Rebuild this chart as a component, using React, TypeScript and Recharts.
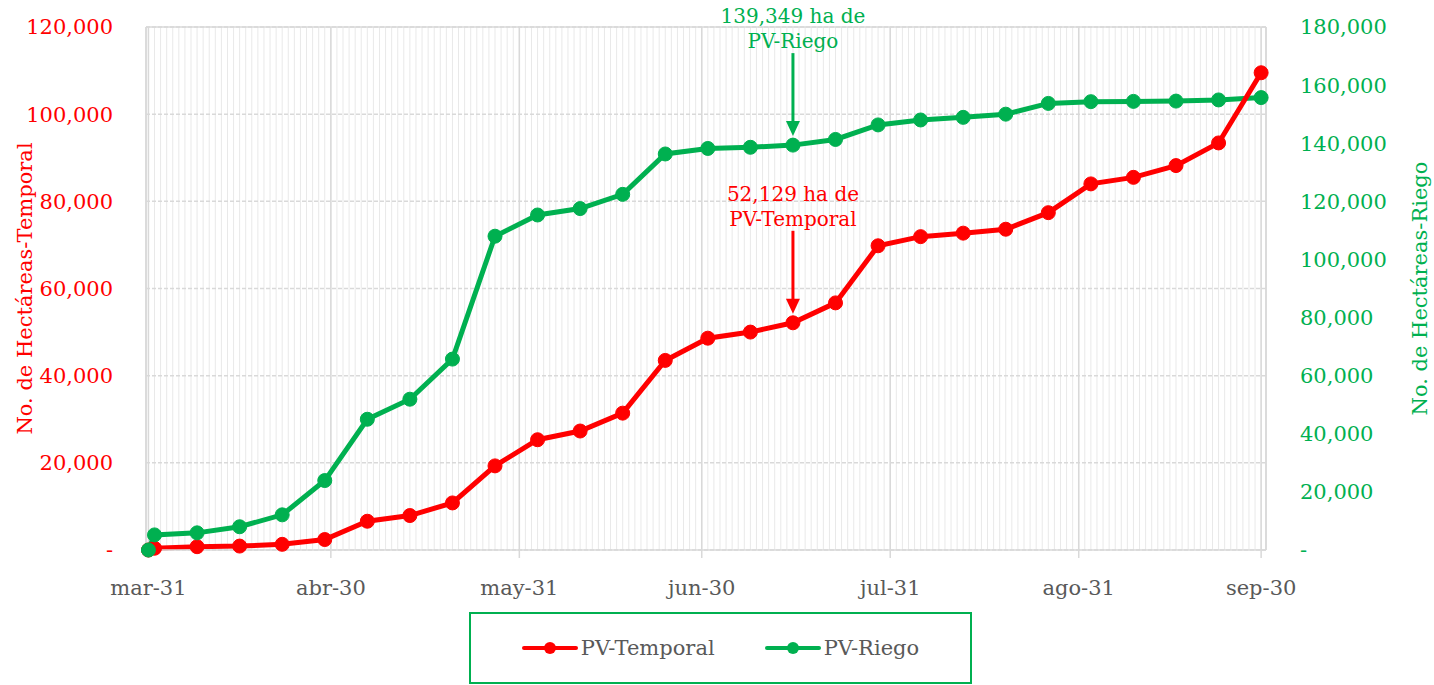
import React from "react";
import {
  LineChart, Line, XAxis, YAxis, CartesianGrid, ReferenceLine, ReferenceDot, Legend, Label,
} from "recharts";

const FONT = "'DejaVu Serif', serif";
const RED = "#ff0000";
const GREEN = "#00b050";
const GRAY_TXT = "#595959";
const GRID = "#d9d9d9";

// fechas de corte (mm-dd)
const fechas = [
  "03-31", "04-01", "04-08", "04-15", "04-22", "04-29", "05-06", "05-13", "05-20", "05-27",
  "06-03", "06-10", "06-17", "06-24", "07-01", "07-08", "07-15", "07-22", "07-29", "08-05",
  "08-12", "08-19", "08-26", "09-02", "09-09", "09-16", "09-23", "09-30",
];
const temporal = [
  0, 400, 760, 900, 1300, 2400, 6600, 7900, 10800, 19300,
  25300, 27300, 31400, 43500, 48600, 50000, 52129, 56700, 69800, 71900,
  72700, 73600, 77400, 84000, 85500, 88200, 93400, 109500,
];
const riego = [
  0, 5200, 5900, 8000, 12100, 23900, 45000, 51900, 65700, 108000,
  115300, 117500, 122400, 136300, 138200, 138600, 139349, 141300, 146300, 148000,
  148900, 150000, 153700, 154300, 154400, 154500, 154900, 155700,
];
const tickFechas = ["03-31", "04-30", "05-31", "06-30", "07-31", "08-31", "09-30"];
const tickLabels = ["mar-31", "abr-30", "may-31", "jun-30", "jul-31", "ago-31", "sep-30"];
const leftTicks = [0, 20000, 40000, 60000, 80000, 100000, 120000];
const rightTicks = [0, 20000, 40000, 60000, 80000, 100000, 120000, 140000, 160000, 180000];
const notaFecha = "07-15";

const dayOf = (f: string) => {
  const [m, d] = f.split("-").map(Number);
  return (Date.UTC(2020, m - 1, d) - Date.UTC(2020, 2, 31)) / 86400000;
};

const data = fechas.map((f, i) => ({ dia: dayOf(f), temporal: temporal[i], riego: riego[i] }));
const xTicks = tickFechas.map(dayOf);
const X_DOMAIN: [number, number] = [-0.4, 183.8];
const minorDays: number[] = [];
for (let d = 0; d <= 183; d++) minorDays.push(d);

const fmt = (v: number) => (v === 0 ? "-" : v.toLocaleString("en-US"));

const nota = (color: string, l1: string, l2: string) => (props: any) => {
  const vb = props.viewBox;
  const cx = vb.x + vb.width / 2;
  const cy = vb.y + vb.height / 2;
  return (
    <g>
      <text x={cx} y={cy - 129} textAnchor="middle" dominantBaseline="central" fill={color} fontSize={20} fontFamily={FONT}>{l1}</text>
      <text x={cx} y={cy - 104} textAnchor="middle" dominantBaseline="central" fill={color} fontSize={20} fontFamily={FONT}>{l2}</text>
      <line x1={cx} y1={cy - 92} x2={cx} y2={cy - 22} stroke={color} strokeWidth={3} />
      <polygon points={`${cx - 7},${cy - 24} ${cx + 7},${cy - 24} ${cx},${cy - 9}`} fill={color} />
    </g>
  );
};

const axisTitle = (text: string, color: string, dx: number) => (props: any) => {
  const vb = props.viewBox;
  const x = vb.x + dx;
  const y = vb.y + vb.height / 2;
  return (
    <text x={x} y={y} transform={`rotate(-90, ${x}, ${y})`} textAnchor="middle" dominantBaseline="central"
      fill={color} fontSize={21} fontFamily={FONT}>{text}</text>
  );
};

const items = [
  { name: "PV-Temporal", color: RED },
  { name: "PV-Riego", color: GREEN },
];

const LegendBox = () => (
  <div style={{
    boxSizing: "border-box", width: 503, height: 72, border: `2px solid ${GREEN}`,
    display: "flex", alignItems: "center", justifyContent: "center", gap: 50,
    fontFamily: FONT, fontSize: 21, color: GRAY_TXT,
  }}>
    {items.map((it) => (
      <div key={it.name} style={{ display: "flex", alignItems: "center" }}>
        <svg width={56} height={16}>
          <line x1={2} y1={8} x2={54} y2={8} stroke={it.color} strokeWidth={4} strokeLinecap="round" />
          <circle cx={28} cy={8} r={6} fill={it.color} />
        </svg>
        <span style={{ marginLeft: 3 }}>{it.name}</span>
      </div>
    ))}
  </div>
);

export default function App() {
  return (
    <div style={{ position: "absolute", left: 0, top: 0, width: 1434, height: 685, background: "#fff" }}>
      <LineChart width={1434} height={685} data={data} margin={{ top: 27, right: 68, bottom: 95, left: 46 }}>
        {/* rejilla diaria */}
        <CartesianGrid
          yAxisId="left"
          horizontal={false}
          stroke="#e9e9e9"
          verticalCoordinatesGenerator={({ offset }: any) =>
            minorDays.map((d) => offset.left + ((d - X_DOMAIN[0]) / (X_DOMAIN[1] - X_DOMAIN[0])) * offset.width)
          }
        />
        <CartesianGrid yAxisId="left" horizontal={false} stroke={GRID} strokeWidth={1.5} />
        <CartesianGrid yAxisId="left" vertical={false} stroke={GRID} strokeDasharray="4 2" strokeWidth={1.5} />
        <XAxis
          dataKey="dia"
          type="number"
          domain={X_DOMAIN}
          ticks={xTicks}
          tickFormatter={(v: number) => tickLabels[xTicks.indexOf(v)]}
          height={40}
          axisLine={{ stroke: GRID, strokeWidth: 1.5 }}
          tickLine={{ stroke: GRID, strokeWidth: 1.5 }}
          tickSize={8}
          tickMargin={22}
          tick={{ fill: GRAY_TXT, fontSize: 21, fontFamily: FONT }}
          interval={0}
        />
        <YAxis
          yAxisId="left"
          domain={[0, 120000]}
          ticks={leftTicks}
          width={100}
          axisLine={{ stroke: GRID, strokeWidth: 1.5 }}
          tickLine={false}
          tickSize={0}
          tickMargin={33}
          tickFormatter={fmt}
          tick={{ fill: RED, fontSize: 21, fontFamily: FONT }}
          interval={0}
        >
          <Label content={axisTitle("No. de Hectáreas-Temporal", RED, -21)} />
        </YAxis>
        <YAxis
          yAxisId="right"
          orientation="right"
          domain={[0, 180000]}
          ticks={rightTicks}
          width={100}
          axisLine={{ stroke: GRID, strokeWidth: 1.5 }}
          tickLine={false}
          tickSize={0}
          tickMargin={34}
          tickFormatter={fmt}
          tick={{ fill: GREEN, fontSize: 21, fontFamily: FONT, textAnchor: "start" }}
          interval={0}
        >
          <Label content={axisTitle("No. de Hectáreas-Riego", GREEN, 154)} />
        </YAxis>
        <ReferenceLine yAxisId="left" y={120000} stroke={GRID} strokeWidth={1.5} />

        <Line yAxisId="right" dataKey="riego" stroke={GREEN} strokeWidth={5} dot={false} activeDot={false} isAnimationActive={false} legendType="none" />
        <Line yAxisId="left" dataKey="temporal" stroke={RED} strokeWidth={5} dot={false} activeDot={false} isAnimationActive={false} legendType="none" />
        <Line yAxisId="left" dataKey="temporal" stroke="none" dot={{ r: 7, fill: RED, stroke: RED, strokeWidth: 1 }} activeDot={false} isAnimationActive={false} name="PV-Temporal" />
        <Line yAxisId="right" dataKey="riego" stroke="none" dot={{ r: 7, fill: GREEN, stroke: GREEN, strokeWidth: 1 }} activeDot={false} isAnimationActive={false} name="PV-Riego" />

        <ReferenceDot yAxisId="right" x={dayOf(notaFecha)} y={riego[fechas.indexOf(notaFecha)]} r={0} fill="none" stroke="none"
          label={{ content: nota(GREEN, "139,349 ha de", "PV-Riego") }} />
        <ReferenceDot yAxisId="left" x={dayOf(notaFecha)} y={temporal[fechas.indexOf(notaFecha)]} r={0} fill="none" stroke="none"
          label={{ content: nota(RED, "52,129 ha de", "PV-Temporal") }} />

        <Legend
          layout="horizontal"
          verticalAlign="middle"
          align="center"
          content={<LegendBox />}
          wrapperStyle={{ position: "absolute", left: 469, top: 612, width: 503, height: 72 }}
        />
      </LineChart>
    </div>
  );
}
